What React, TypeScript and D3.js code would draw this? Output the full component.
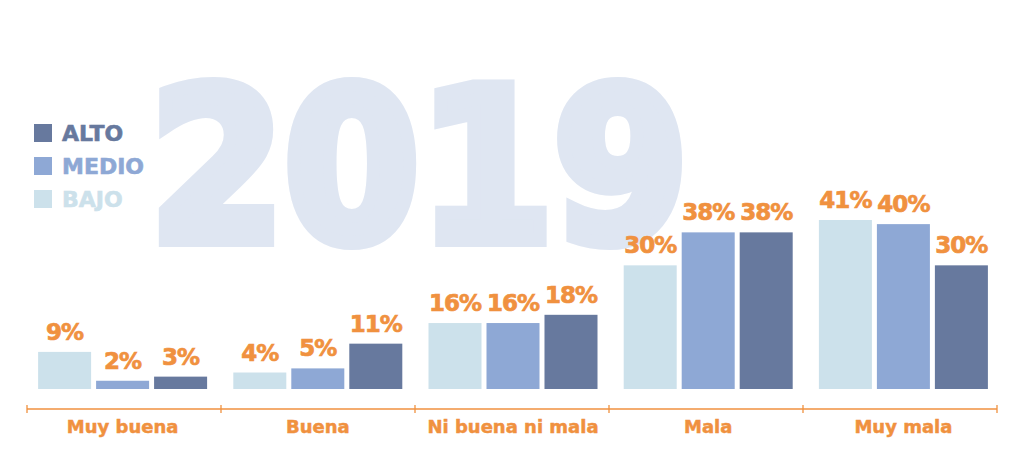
import React from "react";
import * as d3 from "d3";

const categories = ["Muy buena", "Buena", "Ni buena ni mala", "Mala", "Muy mala"];
const seriesNames = ["BAJO", "MEDIO", "ALTO"];
const bajo = [9, 4, 16, 30, 41];
const medio = [2, 5, 16, 38, 40];
const alto = [3, 11, 18, 38, 30];
const legendOrder = ["ALTO", "MEDIO", "BAJO"];
const title = "2019";

const colors: Record<string, string> = {
  BAJO: "#CCE1EB",
  MEDIO: "#8EA8D5",
  ALTO: "#67799E",
};
const ORANGE = "#F0913F";
const FONT = "'DejaVu Sans', sans-serif";

export default function App() {
  const W = 1024, H = 471;
  const values = [bajo, medio, alto];
  const x0 = d3.scaleBand<string>().domain(categories).range([25, 1001]).paddingInner(0).paddingOuter(0);
  const groupW = 169;
  const x1 = d3.scaleBand<string>().domain(seriesNames).range([0, groupW]).paddingInner(0.086).paddingOuter(0);
  const y = d3.scaleLinear().domain([0, 41]).range([389, 220]);
  const axisY = 409;
  const axisScale = d3.scaleBand<string>().domain(categories).range([27, 997]);
  const tickXs = [...categories.map((c) => axisScale(c)!), 997];

  return (
    <svg width={W} height={H} style={{ position: "absolute", left: 0, top: 0, background: "#fff" }}>
      <rect width={W} height={H} fill="#fff" />
      <text
        x={150}
        y={240}
        fontFamily={FONT}
        fontWeight="bold"
        fontSize={211}
        fill="#DFE6F2"
        stroke="#DFE6F2"
        strokeWidth={14}
        strokeLinejoin="miter"
        textLength={538}
        lengthAdjust="spacingAndGlyphs"
      >
        {title}
      </text>
      {legendOrder.map((s, i) => (
        <g key={s} transform={`translate(34, ${124 + i * 33})`}>
          <rect width={18} height={18} fill={colors[s]} />
          <text x={28} y={17} fontFamily={FONT} fontWeight="bold" fontSize={22} fill={colors[s]} stroke={colors[s]} strokeWidth={0.6}>
            {s}
          </text>
        </g>
      ))}
      {categories.map((c, ci) => {
        const gx = x0(c)! + (x0.bandwidth() - groupW) / 2;
        return (
          <g key={c} transform={`translate(${gx},0)`}>
            {seriesNames.map((s, si) => {
              const v = values[si][ci];
              const bx = x1(s)!;
              return (
                <g key={s}>
                  <rect x={bx} y={y(v)} width={x1.bandwidth()} height={y(0) - y(v)} fill={colors[s]} />
                  <text
                    x={bx + x1.bandwidth() / 2}
                    y={y(v) - 12}
                    textAnchor="middle"
                    fontFamily={FONT}
                    fontWeight="bold"
                    fontSize={23}
                    letterSpacing={-1}
                    fill={ORANGE}
                    stroke={ORANGE}
                    strokeWidth={0.7}
                  >
                    {v}%
                  </text>
                </g>
              );
            })}
          </g>
        );
      })}
      <line x1={27} x2={997} y1={axisY} y2={axisY} stroke={ORANGE} strokeWidth={1.3} />
      {tickXs.map((tx, i) => (
        <line key={i} x1={tx} x2={tx} y1={axisY - 4} y2={axisY + 4} stroke={ORANGE} strokeWidth={1.3} />
      ))}
      {categories.map((c) => (
        <text
          key={c}
          x={x0(c)! + x0.bandwidth() / 2}
          y={433}
          textAnchor="middle"
          fontFamily={FONT}
          fontWeight="bold"
          fontSize={18}
          fill={ORANGE}
          stroke={ORANGE}
          strokeWidth={0.5}
        >
          {c}
        </text>
      ))}
    </svg>
  );
}
